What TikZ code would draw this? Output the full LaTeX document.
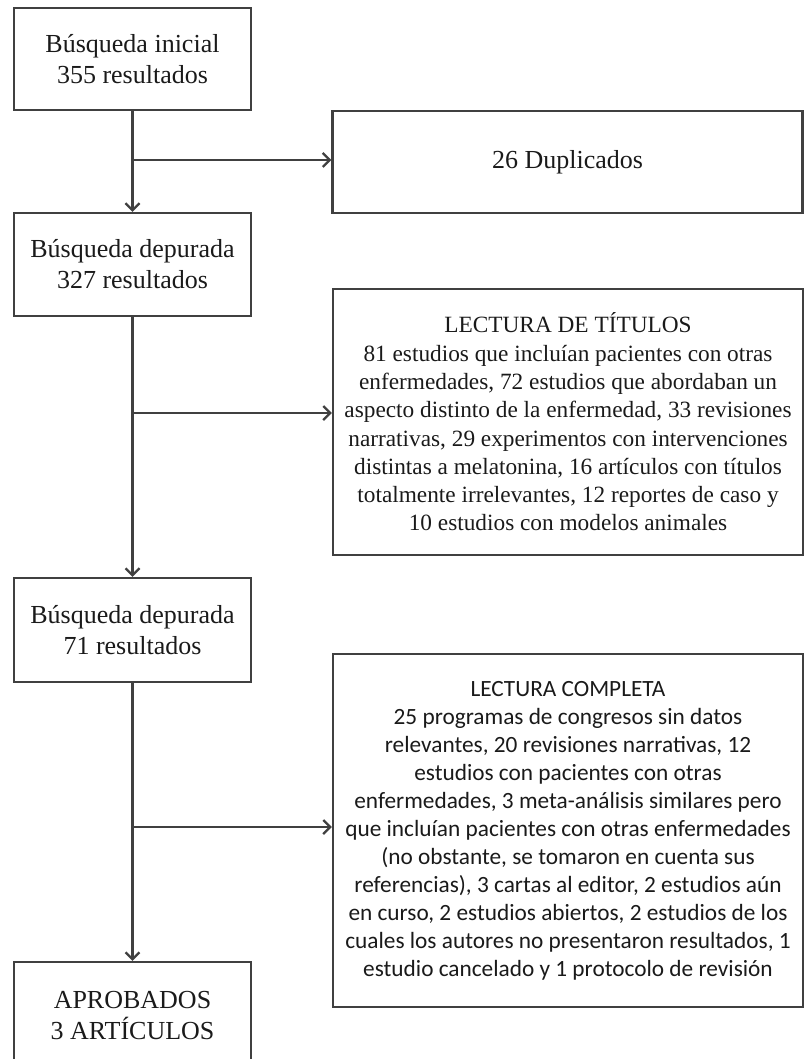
\documentclass[tikz,border=0pt]{standalone}
\usepackage{fontspec}
\setmainfont{Liberation Serif}
\newfontfamily\calfont{Carlito}
\usetikzlibrary{arrows.meta}
\definecolor{linec}{HTML}{404040}
\definecolor{textc}{HTML}{1A1A1A}
\tikzset{
  box/.style={draw=linec, line width=2.4pt, rectangle, align=center, text=textc, inner sep=0pt},
  flow/.style={draw=linec, line width=2.4pt, -{Straight Barb[length=7pt,width=14pt,line width=2.2pt]}},
  big/.style={font=\fontsize{26}{31}\selectfont},
  small/.style={font=\fontsize{23.3}{28.3}\selectfont},
  calsmall/.style={font=\calfont\fontsize{23.3}{28}\selectfont},
}
\begin{document}
\begin{tikzpicture}[x=1pt,y=-1pt]
\useasboundingbox (0,0) rectangle (804,1059);
\clip (0,0) rectangle (804,1059);
\node[box,big,minimum width=237pt,minimum height=102pt] (b1) at (132.5,59) {Búsqueda inicial\\355 resultados};
\node[box,big,minimum width=470pt,minimum height=102pt] (dup) at (567.5,162) {26 Duplicados};
\node[box,big,minimum width=237pt,minimum height=103pt] (b2) at (132.5,264.5) {Búsqueda depurada\\327 resultados};
\node[box,small,minimum width=470pt,minimum height=266pt] (tit) at (568,422) {LECTURA DE TÍTULOS\\81 estudios que incluían pacientes con otras\\enfermedades, 72 estudios que abordaban un\\aspecto distinto de la enfermedad, 33 revisiones\\narrativas, 29 experimentos con intervenciones\\distintas a melatonina, 16 artículos con títulos\\totalmente irrelevantes, 12 reportes de caso y\\10 estudios con modelos animales};
\node[box,big,minimum width=237pt,minimum height=104pt] (b3) at (132.5,630) {Búsqueda depurada\\71 resultados};
\node[box,calsmall,minimum width=470pt,minimum height=353pt] (comp) at (568,830.5) {LECTURA COMPLETA\\25 programas de congresos sin datos\\relevantes, 20 revisiones narrativas, 12\\estudios con pacientes con otras\\enfermedades, 3 meta-análisis similares pero\\que incluían pacientes con otras enfermedades\\(no obstante, se tomaron en cuenta sus\\referencias), 3 cartas al editor, 2 estudios aún\\en curso, 2 estudios abiertos, 2 estudios de los\\cuales los autores no presentaron resultados, 1\\estudio cancelado y 1 protocolo de revisión};
\node[box,big,minimum width=237pt,minimum height=108pt] (b4) at (132.5,1016) {APROBADOS\\3 ARTÍCULOS};
\coordinate (j1) at (132.5,160);
\coordinate (j2) at (132.5,413);
\coordinate (j3) at (132.5,827);
\draw[flow] (b1.south) -- (b2.north);
\draw[flow] (j1) -- (dup.west |- j1);
\draw[flow] (b2.south) -- (b3.north);
\draw[flow] (j2) -- (tit.west |- j2);
\draw[flow] (b3.south) -- (b4.north);
\draw[flow] (j3) -- (comp.west |- j3);
\end{tikzpicture}
\end{document}
